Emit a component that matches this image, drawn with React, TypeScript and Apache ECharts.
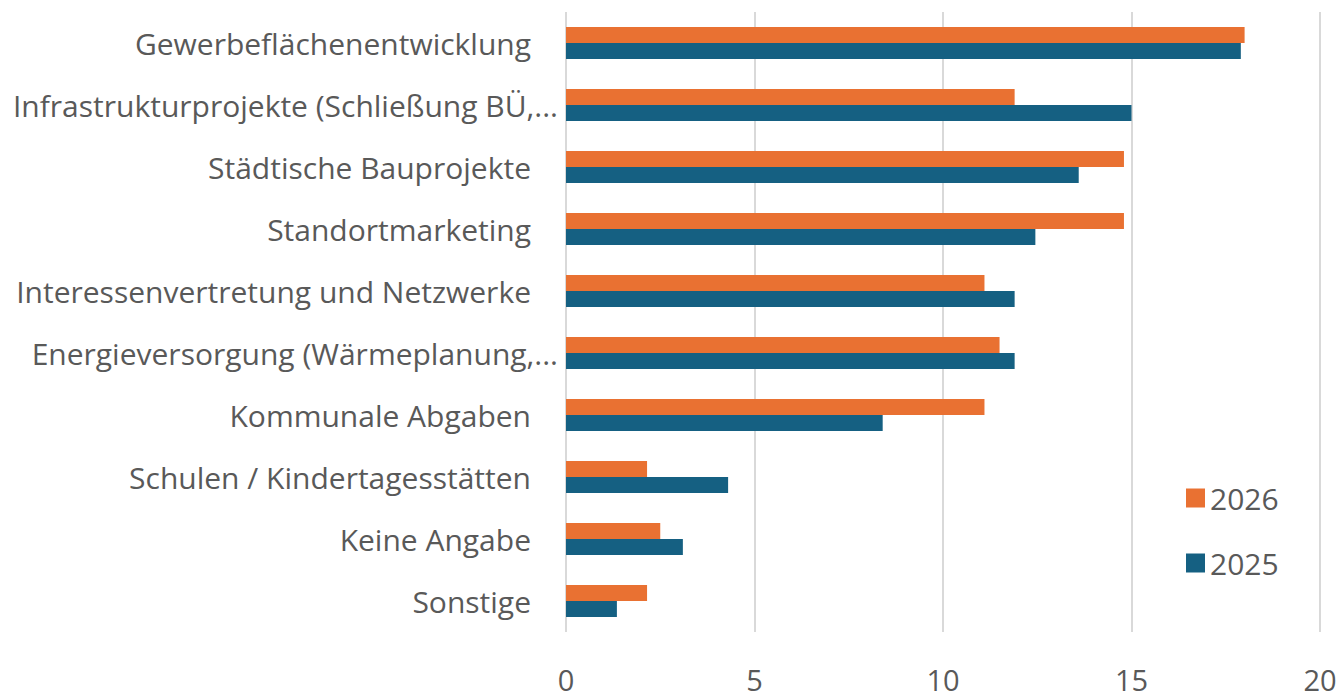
import React, { useEffect, useRef } from "react";
import * as echarts from "echarts";

const categories = [
  "Gewerbeflächenentwicklung",
  "Infrastrukturprojekte (Schließung BÜ,...",
  "Städtische Bauprojekte",
  "Standortmarketing",
  "Interessenvertretung und Netzwerke",
  "Energieversorgung (Wärmeplanung,...",
  "Kommunale Abgaben",
  "Schulen / Kindertagesstätten",
  "Keine Angabe",
  "Sonstige",
];
const values2026 = [18.0, 11.9, 14.8, 14.8, 11.1, 11.5, 11.1, 2.15, 2.5, 2.15];
const values2025 = [17.9, 15.0, 13.6, 12.45, 11.9, 11.9, 8.4, 4.3, 3.1, 1.35];
const xTicks = { min: 0, max: 20, interval: 5 };

const FONT = "'Open Sans', 'Noto Sans', sans-serif";
const TEXT = "#595959";

export default function App() {
  const ref = useRef<HTMLDivElement>(null);
  useEffect(() => {
    if (!ref.current) return;
    const chart = echarts.init(ref.current, null, { renderer: "svg" });
    chart.setOption({
      animation: false,
      backgroundColor: "#ffffff",
      textStyle: { fontFamily: FONT },
      grid: { left: 566, right: 22, top: 12, bottom: 66, containLabel: false },
      legend: {
        orient: "vertical",
        left: 1181,
        top: 478,
        itemWidth: 19,
        itemHeight: 19,
        itemGap: 35,
        icon: "rect",
        data: ["2026", "2025"],
        textStyle: { fontSize: 30, color: TEXT, fontFamily: FONT },
      },
      xAxis: {
        type: "value",
        min: xTicks.min,
        max: xTicks.max,
        interval: xTicks.interval,
        axisLine: { show: false },
        axisTick: { show: false },
        splitLine: { lineStyle: { color: "#d9d9d9", width: 2 } },
        axisLabel: { fontSize: 29, color: TEXT, margin: 33, fontFamily: FONT },
      },
      yAxis: {
        type: "category",
        inverse: true,
        data: categories,
        axisLine: { show: false },
        axisTick: { show: false },
        axisLabel: {
          margin: 8,
          formatter: (v: string) => (v.endsWith("...") ? `{e|${v}}` : `{n|${v}}`),
          rich: {
            n: { fontSize: 30, color: TEXT, fontFamily: FONT, padding: [0, 27, 0, 0] },
            e: { fontSize: 30, color: TEXT, fontFamily: FONT },
          },
        },
      },
      series: [
        {
          name: "2026",
          type: "bar",
          data: values2026,
          itemStyle: { color: "#E97132" },
          barWidth: 16,
          barGap: "0%",
        },
        {
          name: "2025",
          type: "bar",
          data: values2025,
          itemStyle: { color: "#156082" },
          barWidth: 16,
          barGap: "0%",
        },
      ],
    });
    return () => chart.dispose();
  }, []);
  return (
    <div
      ref={ref}
      style={{ position: "fixed", left: 0, top: 0, width: 1342, height: 698, background: "#fff" }}
    />
  );
}
